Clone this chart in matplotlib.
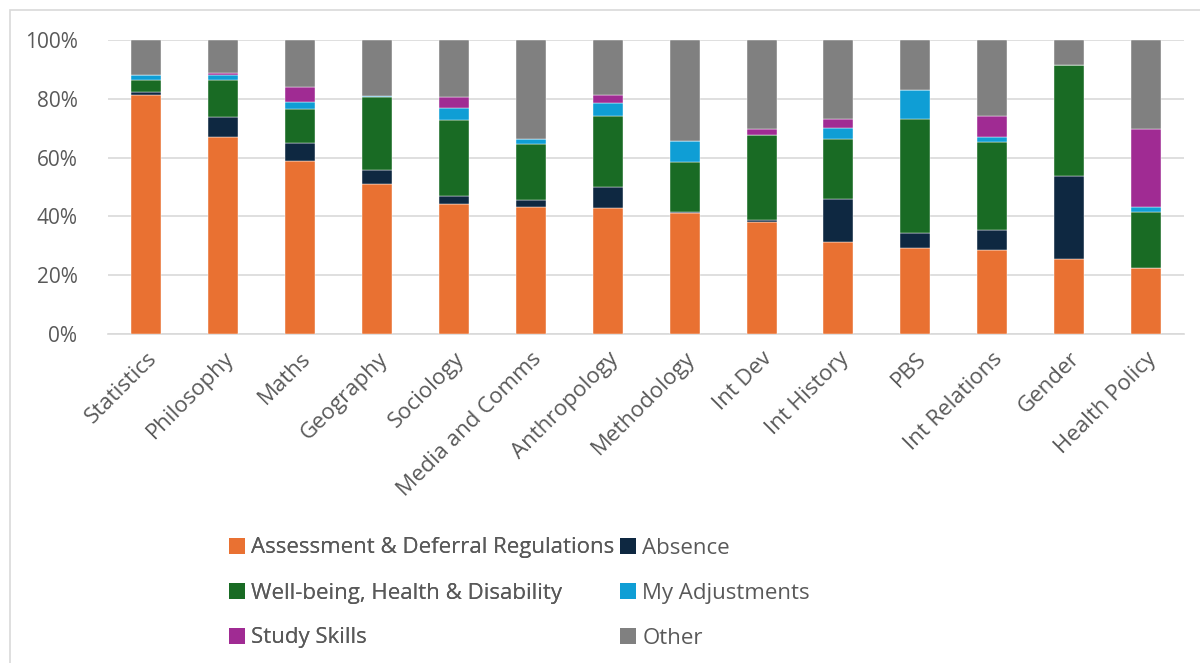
import matplotlib
matplotlib.use("Agg")
import matplotlib.pyplot as plt
from matplotlib.patches import Rectangle, Patch
from matplotlib.ticker import PercentFormatter
import numpy as np

categories = ["Statistics", "Philosophy", "Maths", "Geography", "Sociology",
              "Media and Comms", "Anthropology", "Methodology", "Int Dev",
              "Int History", "PBS", "Int Relations", "Gender", "Health Policy"]

assessment = [81.3, 67.1, 58.7, 51.0, 44.2, 43.1, 42.9, 41.3, 38.1, 31.3, 29.3, 28.6, 25.6, 22.4]
absence    = [0.9, 6.8, 6.4, 4.6, 2.6, 2.6, 7.0, 0.1, 0.7, 14.7, 5.2, 6.8, 28.1, 0.0]
wellbeing  = [4.2, 12.6, 11.5, 24.9, 26.1, 19.0, 24.2, 17.1, 28.8, 20.2, 38.7, 29.9, 37.6, 19.1]
adjust     = [1.5, 1.6, 2.2, 0.3, 4.0, 1.5, 4.4, 7.0, 0.0, 4.0, 9.9, 1.8, 0.0, 1.8]
study      = [0.1, 0.6, 5.0, 0.0, 3.8, 0.0, 2.9, 0.0, 2.2, 2.8, 0.0, 7.0, 0.0, 26.5]
other      = [12.0, 11.3, 16.2, 19.2, 19.3, 33.8, 18.6, 34.5, 30.2, 27.0, 16.9, 25.9, 8.7, 30.2]

series_names = ["Assessment & Deferral Regulations", "Absence",
                "Well-being, Health & Disability", "My Adjustments",
                "Study Skills", "Other"]
series_vals = [assessment, absence, wellbeing, adjust, study, other]
colors = ["#E97132", "#0E2841", "#196B24", "#0F9ED5", "#A02B93", "#808080"]

plt.rcParams['font.family'] = ['Open Sans', 'DejaVu Sans']
text_col = "#595959"

fig = plt.figure(figsize=(12, 6.63), dpi=100)
ax = fig.add_axes([0.09, 0.496, 0.897, 0.444])

x = np.arange(len(categories))
bottom = np.zeros(len(categories))
handles = []
for name, vals, c in zip(series_names, series_vals, colors):
    v = np.array(vals, dtype=float)
    ax.bar(x, v, 0.39, bottom=bottom, color=c, edgecolor="white", linewidth=0.3, zorder=3)
    bottom += v
    handles.append(Patch(facecolor=c, edgecolor='none', label=name))

ax.set_xlim(-0.5, len(categories) - 0.5)
ax.set_ylim(0, 100)
ax.set_yticks(np.arange(0, 101, 20))
ax.yaxis.set_major_formatter(PercentFormatter(decimals=0))
ax.grid(axis='y', color="#d9d9d9", linewidth=1.2, zorder=0)
for s in ["top", "right", "left"]:
    ax.spines[s].set_visible(False)
ax.spines["bottom"].set_color("#d9d9d9")
ax.spines["bottom"].set_linewidth(1.2)
ax.tick_params(axis='y', length=0, labelsize=15, colors=text_col, pad=22)
ax.tick_params(axis='x', length=0, labelsize=16, colors=text_col, pad=10)
ax.set_xticks(x)
ax.set_xticklabels(categories, rotation=45, ha='right', va='top', rotation_mode='anchor')

# legend in two columns placed separately
legkw = dict(loc='center left', frameon=False, fontsize=16, labelcolor=text_col,
             handlelength=0.7, handleheight=0.7, handletextpad=0.3,
             labelspacing=1.08, borderaxespad=0, borderpad=0)
col1 = [0, 2, 4]
col2 = [1, 3, 5]
yc = 1 - 593 / 663
leg1 = fig.legend([handles[i] for i in col1], [series_names[i] for i in col1],
                  bbox_to_anchor=(229 / 1200, yc), **legkw)
fig.add_artist(leg1)
leg2 = fig.legend([handles[i] for i in col2], [series_names[i] for i in col2],
                  bbox_to_anchor=(620 / 1200, yc), **legkw)

# outer frame
fig.patches.append(Rectangle((10/1200, -0.01), 1.2, 1 - 10/663 + 0.01,
                             transform=fig.transFigure, fill=False,
                             edgecolor="#d9d9d9", linewidth=1.2))

fig.savefig("out.png", dpi=100)
